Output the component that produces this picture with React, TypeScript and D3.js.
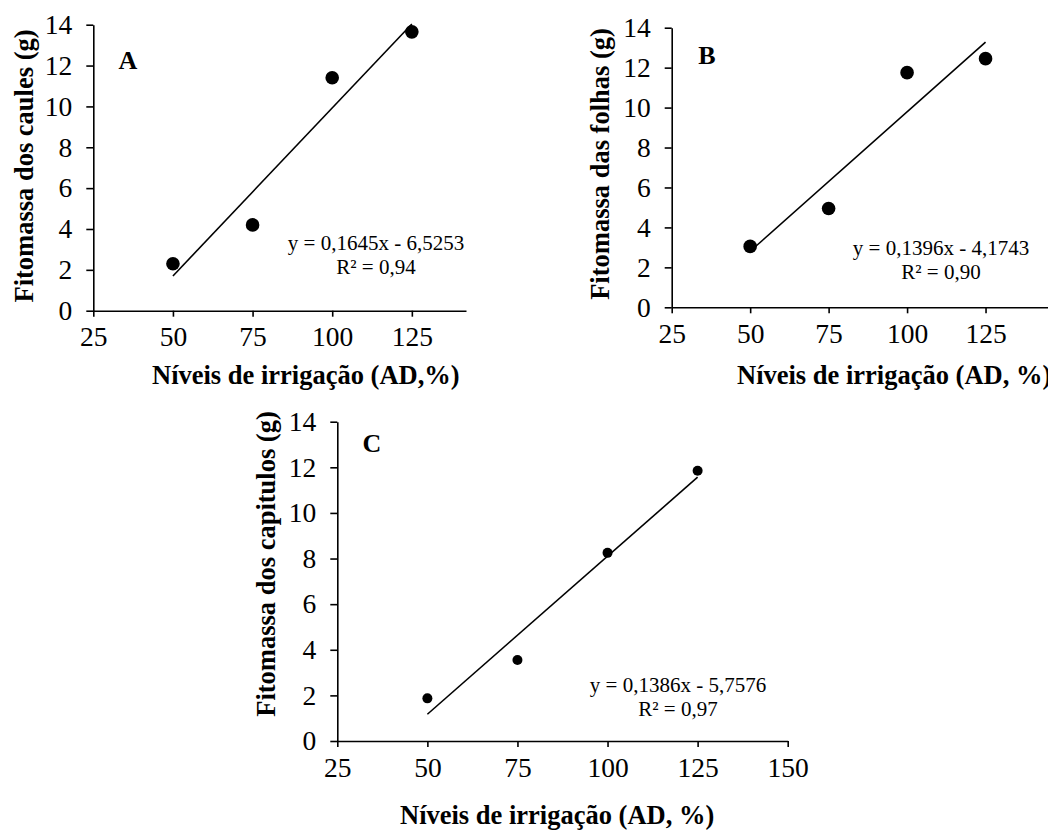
import * as d3 from "d3";
import { useEffect, useRef } from "react";

// irrigation levels (AD, %) and measured dry mass per organ (g)
const irrigation = [50, 75, 100, 125];
const stemMass = [2.3, 4.2, 11.4, 13.65];
const leafMass = [3.05, 4.95, 11.75, 12.45];
const headMass = [1.87, 3.55, 8.25, 11.85];

// fitted linear regressions
const slopes = [0.1645, 0.1396, 0.1386];
const intercepts = [-6.5253, -4.1743, -5.7576];
const equations = ["y = 0,1645x - 6,5253", "y = 0,1396x - 4,1743", "y = 0,1386x - 5,7576"];
const r2Labels = ["R² = 0,94", "R² = 0,90", "R² = 0,97"];

const letters = ["A", "B", "C"];
const yTitles = ["Fitomassa dos caules (g)", "Fitomassa das folhas (g)", "Fitomassa dos capitulos (g)"];
const xTitles = ["Níveis de irrigação (AD,%)", "Níveis de irrigação (AD, %)", "Níveis de irrigação (AD, %)"];

const yTicks = [0, 2, 4, 6, 8, 10, 12, 14];
const xTicksAB = [25, 50, 75, 100, 125];
const xTicksC = [25, 50, 75, 100, 125, 150];

const FONT = "'Liberation Serif', 'Times New Roman', serif";

// layout of each panel on the page
const layout = [
  {
    values: stemMass, xDomain: [25, 142], xRange: [93.3, 466], yRange: [310.7, 24.7],
    xTicks: xTicksAB, r: 6.8, letter: [128, 60], eq: [376, 250], yTitle: [25, 166], xTitle: [152, 384],
  },
  {
    values: leafMass, xDomain: [25, 150], xRange: [671.7, 1064], yRange: [307.3, 27.7],
    xTicks: xTicksAB, r: 6.8, letter: [707, 55], eq: [941, 255], yTitle: [601, 164], xTitle: [737, 384],
  },
  {
    values: headMass, xDomain: [25, 150], xRange: [337.3, 787.7], yRange: [741, 421.7],
    xTicks: xTicksC, r: 5, letter: [372, 443], eq: [678, 692], yTitle: [267, 564], xTitle: [400, 824],
  },
];

export default function App() {
  const ref = useRef<SVGSVGElement>(null);

  useEffect(() => {
    const svg = d3.select(ref.current);
    svg.selectAll("*").remove();

    layout.forEach((p, i) => {
      const x = d3.scaleLinear().domain(p.xDomain).range(p.xRange);
      const y = d3.scaleLinear().domain([0, 14]).range(p.yRange);
      const g = svg.append("g");

      const xAxis = g
        .append("g")
        .attr("transform", `translate(0,${p.yRange[0]})`)
        .call(d3.axisBottom(x).tickValues(p.xTicks).tickFormat(d3.format("d")).tickSize(6).tickSizeOuter(0).tickPadding(10));

      const yAxis = g
        .append("g")
        .attr("transform", `translate(${p.xRange[0]},0)`)
        .call(d3.axisLeft(y).tickValues(yTicks).tickFormat(d3.format("d")).tickSize(7).tickSizeOuter(0).tickPadding(14));

      [xAxis, yAxis].forEach((a) => {
        a.select(".domain").attr("stroke", "#000").attr("stroke-width", 1.6);
        a.selectAll(".tick line").attr("stroke", "#000").attr("stroke-width", 1.6);
        a.selectAll(".tick text").attr("fill", "#000").attr("font-family", FONT).attr("font-size", 27.5);
      });

      // trendline between first and last level
      const ends = [irrigation[0], irrigation[irrigation.length - 1]];
      g.append("path")
        .attr("fill", "none")
        .attr("stroke", "#000")
        .attr("stroke-width", 1.6)
        .attr(
          "d",
          d3.line<number>()
            .x((d) => x(d))
            .y((d) => y(slopes[i] * d + intercepts[i]))(ends)
        );

      g.append("g")
        .selectAll("circle")
        .data(irrigation)
        .join("circle")
        .attr("cx", (d) => x(d))
        .attr("cy", (_, j) => y(p.values[j]))
        .attr("r", p.r)
        .attr("fill", "#000");

      g.append("text")
        .attr("x", p.letter[0])
        .attr("y", p.letter[1])
        .attr("dy", "0.35em")
        .attr("text-anchor", "middle")
        .attr("font-family", FONT)
        .attr("font-weight", "bold")
        .attr("font-size", 26)
        .text(letters[i]);

      const eq = g
        .append("text")
        .attr("font-family", FONT)
        .attr("font-size", 21)
        .attr("text-anchor", "middle");
      eq.append("tspan").attr("x", p.eq[0]).attr("y", p.eq[1]).text(equations[i]);
      eq.append("tspan").attr("x", p.eq[0]).attr("y", p.eq[1] + 24).text(r2Labels[i]);

      g.append("text")
        .attr("transform", `translate(${p.yTitle[0]},${p.yTitle[1]}) rotate(-90)`)
        .attr("dy", "0.3em")
        .attr("text-anchor", "middle")
        .attr("font-family", FONT)
        .attr("font-weight", "bold")
        .attr("font-size", 26.5)
        .text(yTitles[i]);

      g.append("text")
        .attr("x", p.xTitle[0])
        .attr("y", p.xTitle[1])
        .attr("font-family", FONT)
        .attr("font-weight", "bold")
        .attr("font-size", 26.5)
        .text(xTitles[i]);
    });
  }, []);

  return (
    <svg
      ref={ref}
      width={1048}
      height={832}
      style={{ position: "absolute", left: 0, top: 0, background: "#fff" }}
    />
  );
}
